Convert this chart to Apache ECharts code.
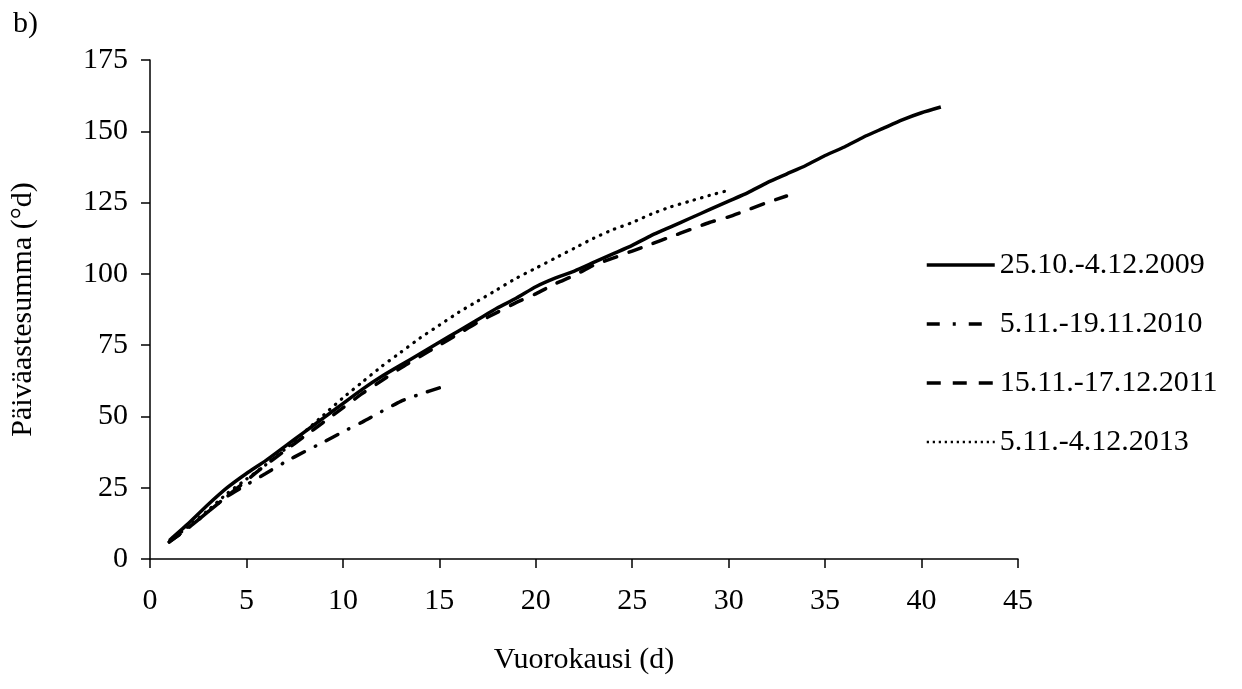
<!DOCTYPE html>
<html>
<head>
<meta charset="utf-8">
<script src="https://cdn.jsdelivr.net/npm/echarts@6/dist/echarts.min.js"></script>
<style>
  html, body { margin: 0; padding: 0; background: #fff; }
  #chart { width: 1242px; height: 689px; }
</style>
</head>
<body>
<div id="chart"></div>
<script>
// degree-day sums per day
const days2009 = [1,2,3,4,5,6,7,8,9,10,11,12,13,14,15,16,17,18,19,20,21,22,23,24,25,26,27,28,29,30,31,32,33,34,35,36,37,38,39,40,41];
const sum2009 = [6.5,12.5,19,25,30,34.5,39.5,44.5,49.5,54.5,59.5,64,68,72,76,80,84,88,91.5,95.5,98.5,101,104,107,110,113.5,116.5,119.5,122.5,125.5,128.5,132,135,138,141.5,144.5,148,151,154,156.5,158.5];

const days2010 = [1,2,3,4,5,6,7,8,9,10,11,12,13,14,15];
const sum2010 = [6,11,16.5,22,26,30,34,37.6,41,44.6,48,51.7,55.3,57.8,60];

const days2011 = [1,2,3,4,5,6,7,8,9,10,11,12,13,14,15,16,17,18,19,20,21,22,23,24,25,26,27,28,29,30,31,32,33];
const sum2011 = [6,11,16.5,22,27.5,33,38,43,48,53,58,62.5,67,71,75,79,83,86.5,90,93,96.5,99.5,103,105.5,108,110.5,113,115.5,118,120,122.5,125,127.3];

const days2013 = [1,2,3,4,5,6,7,8,9,10,11,12,13,14,15,16,17,18,19,20,21,22,23,24,25,26,27,28,29,30];
const sum2013 = [6,11.5,17,23,28,33,38.5,44.5,50.5,56.5,62,67.5,72.5,77.5,82,86.5,90.5,94.5,98.5,102,105.5,109,112.5,115.5,118,121,123.5,125.5,127.5,129.3];

const seriesNames = ['25.10.-4.12.2009', '5.11.-19.11.2010', '15.11.-17.12.2011', '5.11.-4.12.2013'];

const xTicks = { min: 0, max: 45, interval: 5 };
const yTicks = { min: 0, max: 175, interval: 25 };

const font = 'Liberation Serif';
const fs = 30;

// line looks: solid, dash-dot, dashed, dotted
const styles = [
  { color: '#000', width: 3.5, type: 'solid' },
  { color: '#000', width: 3.5, type: [13, 12, 0.5, 12], cap: 'round' },
  { color: '#000', width: 3.5, type: [13, 13], cap: 'round' },
  { color: '#000', width: 3.2, type: [0.5, 7.2], cap: 'round' }
];
const legendStyles = [
  { color: '#000', width: 3.5, type: 'solid' },
  { color: '#000', width: 3.5, type: [13, 13, 3, 13], cap: 'butt' },
  { color: '#000', width: 3.5, type: [14, 12], cap: 'butt' },
  { color: '#000', width: 2.5, type: [2.2, 3.8], cap: 'butt' }
];

function pairs(xs, ys) {
  return xs.map((x, i) => [x, ys[i]]);
}

const dataSets = [
  pairs(days2009, sum2009),
  pairs(days2010, sum2010),
  pairs(days2011, sum2011),
  pairs(days2013, sum2013)
];

const chart = echarts.init(document.getElementById('chart'), null, { renderer: 'canvas' });

chart.setOption({
  backgroundColor: '#ffffff',
  animation: false,
  textStyle: { fontFamily: font, color: '#000' },
  title: {
    text: 'b)',
    left: 8,
    top: 4,
    textStyle: { fontFamily: font, fontSize: fs, fontWeight: 'normal', color: '#000' }
  },
  grid: { left: 150, top: 60, right: 224, bottom: 130 },
  legend: {
    orient: 'vertical',
    left: 925,
    top: 250,
    padding: 0,
    itemWidth: 68,
    itemHeight: 26,
    itemGap: 29,
    itemStyle: { opacity: 0 },
    textStyle: { fontFamily: font, fontSize: fs, color: '#000' },
    data: seriesNames.map((n, i) => ({ name: n, lineStyle: legendStyles[i] }))
  },
  xAxis: {
    type: 'value',
    min: xTicks.min,
    max: xTicks.max,
    interval: xTicks.interval,
    name: 'Vuorokausi (d)',
    nameLocation: 'middle',
    nameGap: 86,
    nameTextStyle: { fontFamily: font, fontSize: fs, color: '#000' },
    axisLine: { show: true, lineStyle: { color: '#000', width: 1.5 } },
    axisTick: { show: true, inside: false, length: 9, lineStyle: { color: '#000', width: 1.5 } },
    axisLabel: { fontFamily: font, fontSize: fs, color: '#000', margin: 27 },
    splitLine: { show: false }
  },
  yAxis: {
    type: 'value',
    min: yTicks.min,
    max: yTicks.max,
    interval: yTicks.interval,
    name: 'Päiväastesumma (°d)',
    nameLocation: 'middle',
    nameGap: 112,
    nameTextStyle: { fontFamily: font, fontSize: fs, color: '#000' },
    axisLine: { show: true, lineStyle: { color: '#000', width: 1.5 } },
    axisTick: { show: true, inside: false, length: 9, lineStyle: { color: '#000', width: 1.5 } },
    axisLabel: { fontFamily: font, fontSize: fs, color: '#000', margin: 22 },
    splitLine: { show: false }
  },
  series: seriesNames.map((n, i) => ({
    name: n,
    type: 'line',
    data: dataSets[i],
    showSymbol: false,
    smooth: 0.2,
    lineStyle: styles[i],
    itemStyle: { color: '#000' }
  }))
});
</script>
</body>
</html>
